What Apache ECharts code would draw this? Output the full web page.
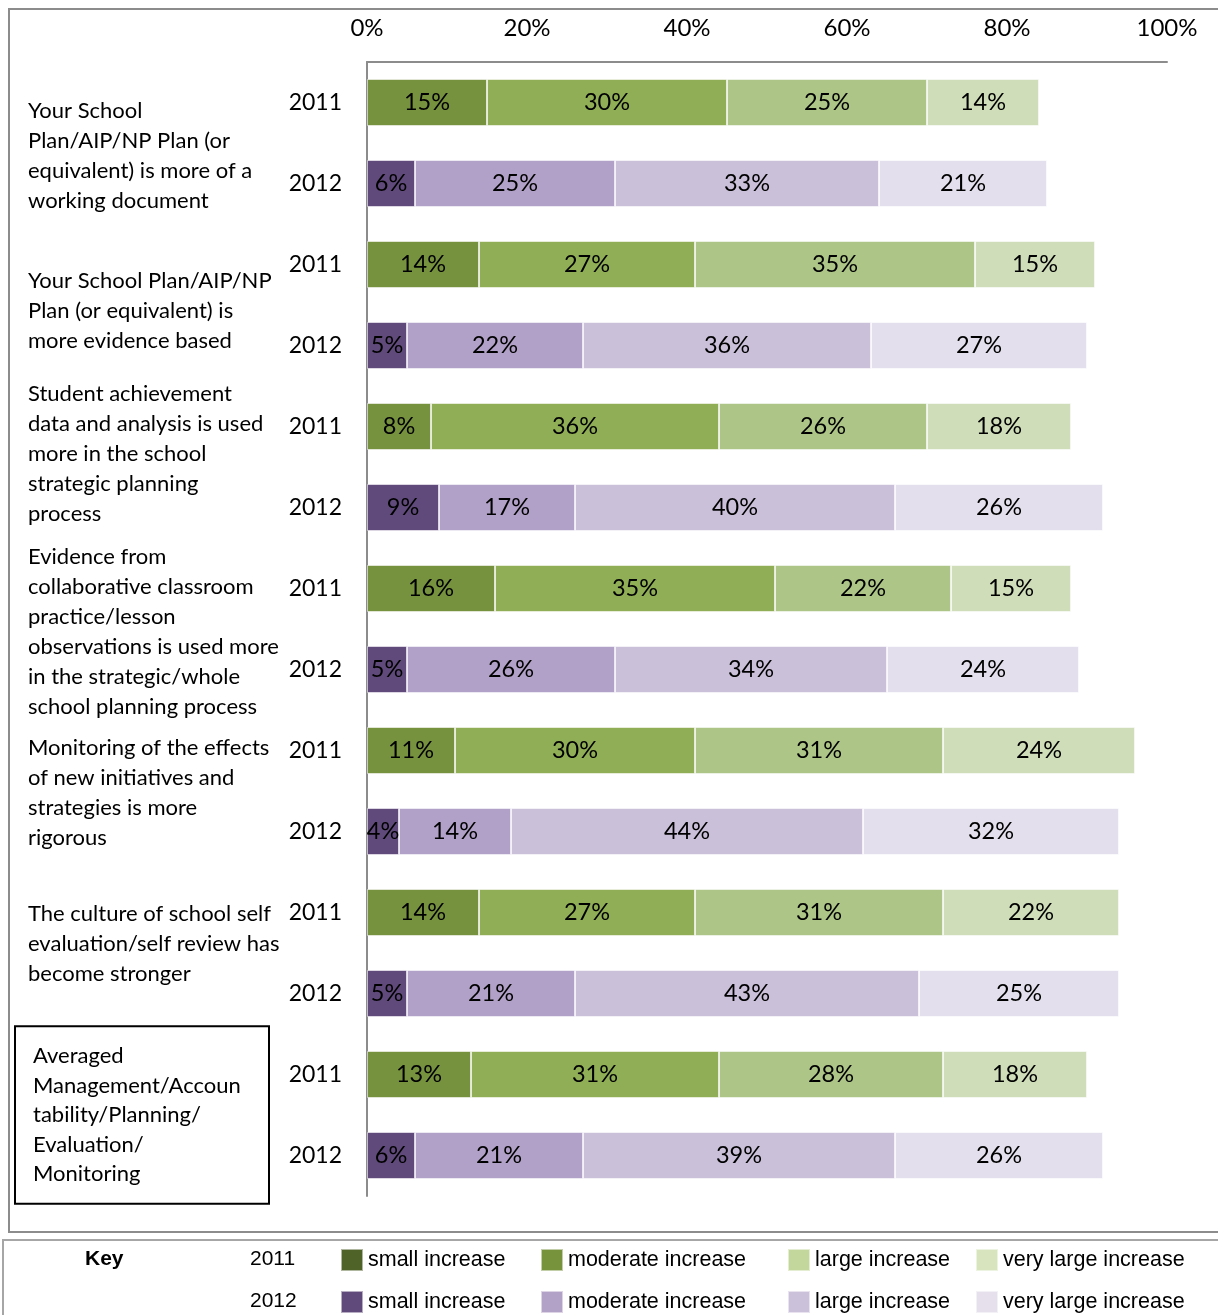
<!DOCTYPE html>
<html>
<head>
<meta charset="utf-8">
<style>
  html, body { margin: 0; padding: 0; background: #fff; }
  #chart { width: 1218px; height: 1315px; }
</style>
<script src="https://cdn.jsdelivr.net/npm/echarts@6/dist/echarts.min.js"></script>
</head>
<body>
<div id="chart"></div>
<script>
// Survey statements (one group per statement, two years each)
const statements = [
  'Your School\nPlan/AIP/NP Plan (or\nequivalent) is more of a\nworking document',
  'Your School Plan/AIP/NP\nPlan (or equivalent) is\nmore evidence based',
  'Student achievement\ndata and analysis is used\nmore in the school\nstrategic planning\nprocess',
  'Evidence from\ncollaborative classroom\npractice/lesson\nobservations is used more\nin the strategic/whole\nschool planning process',
  'Monitoring of the effects\nof new initiatives and\nstrategies is more\nrigorous',
  'The culture of school self\nevaluation/self review has\nbecome stronger',
  'Averaged\nManagement/Accoun\ntability/Planning/\nEvaluation/\nMonitoring'
];
const years = ['2011', '2012'];
const levels = ['small increase', 'moderate increase', 'large increase', 'very large increase'];

// Percentages per statement: [small, moderate, large, very large]
const values2011 = [
  [15, 30, 25, 14],
  [14, 27, 35, 15],
  [8, 36, 26, 18],
  [16, 35, 22, 15],
  [11, 30, 31, 24],
  [14, 27, 31, 22],
  [13, 31, 28, 18]
];
const values2012 = [
  [6, 25, 33, 21],
  [5, 22, 36, 27],
  [9, 17, 40, 26],
  [5, 26, 34, 24],
  [4, 14, 44, 32],
  [5, 21, 43, 25],
  [6, 21, 39, 26]
];
const xTicks = [0, 20, 40, 60, 80, 100];

// Colours
const barColors2011 = ['#77923F', '#90AE55', '#ADC586', '#CFDDB8'];
const barColors2012 = ['#604A7B', '#B1A0C7', '#CBC0DA', '#E4DFEC'];
const keyColors2011 = ['#4F6228', '#77933C', '#C3D69B', '#D7E4BD'];
const keyColors2012 = ['#604A7B', '#B3A2C7', '#CCC1DA', '#E6E0EC'];

// One row per (statement, year)
const rowYears = [];
statements.forEach(() => years.forEach(y => rowYears.push(y)));

const FONT = 'Lato';
const KEYFONT = 'Liberation Sans';

function yearSeries(vals, yearIdx, colors) {
  return levels.map((lvl, k) => ({
    name: lvl + ' (' + years[yearIdx] + ')',
    type: 'bar',
    stack: 'share',
    barWidth: 47,
    yAxisIndex: 0,
    itemStyle: { color: colors[k], borderColor: 'rgba(255,255,255,0.55)', borderWidth: 1 },
    label: {
      show: true,
      position: 'inside',
      formatter: p => p.value + '%',
      color: '#000',
      fontFamily: FONT,
      fontSize: 23.5
    },
    emphasis: { disabled: true },
    data: rowYears.map((y, r) => (r % 2 === yearIdx ? vals[Math.floor(r / 2)][k] : '-'))
  }));
}

const series = [
  ...yearSeries(values2011, 0, barColors2011),
  ...yearSeries(values2012, 1, barColors2012)
];

// Key: one legend box per swatch so the spacing follows the text widths
const keyLefts = [335, 535, 782, 970];
const keyTops = [1243, 1285];
const legends = [];
[keyColors2011, keyColors2012].forEach((cols, yi) => {
  levels.forEach((lvl, k) => {
    legends.push({
      left: keyLefts[k],
      top: keyTops[yi],
      itemWidth: 22,
      itemHeight: 22,
      icon: 'rect',
      selectedMode: false,
      itemGap: 0,
      data: [{ name: lvl + ' (' + years[yi] + ')', itemStyle: { color: cols[k] } }],
      formatter: n => n.replace(/ \(\d+\)$/, ''),
      textStyle: { fontFamily: KEYFONT, fontSize: 21.5, color: '#000' }
    });
  });
});

// Vertical nudge of each statement label (spacer height above > 0, below < 0)
const labelNudge = [26, 12, -26, 6, 4, -18, 0];
const lastIdx = statements.length - 1;

function statementLabel(value, idx) {
  const lines = value.split('\n').map(l => '{t|' + l + '}');
  const h = labelNudge[idx] || 0;
  if (h > 0) lines.unshift('{sp|' + ' ' + '}');
  if (h < 0) lines.push('{sp|' + ' ' + '}');
  return { text: lines.join('\n'), h: Math.abs(h) };
}

const option = {
  animation: false,
  backgroundColor: '#fff',
  grid: { left: 367, right: 51, top: 62, bottom: 119, containLabel: false },
  xAxis: {
    type: 'value',
    position: 'top',
    min: 0,
    max: 100,
    interval: 20,
    axisLine: { show: true, lineStyle: { color: '#8C8C8C', width: 2 } },
    axisTick: { show: false },
    splitLine: { show: false },
    axisLabel: {
      formatter: v => v + '%',
      color: '#000',
      fontFamily: FONT,
      fontSize: 24,
      margin: 22
    }
  },
  yAxis: [
    {
      type: 'category',
      inverse: true,
      data: rowYears,
      axisLine: { show: true, lineStyle: { color: '#8C8C8C', width: 2 } },
      axisTick: { show: false },
      axisLabel: { color: '#000', fontFamily: FONT, fontSize: 23, margin: 25 }
    },
    {
      type: 'category',
      inverse: true,
      position: 'left',
      data: statements,
      axisLine: { show: false },
      axisTick: { show: false },
      axisLabel: {
        interval: (i) => i !== lastIdx,
        align: 'left',
        margin: 339,
        formatter: (value, idx) => statementLabel(value, idx).text,
        rich: {
          t: { color: '#000', fontFamily: FONT, fontSize: 22, lineHeight: 30 },
          sp: { fontSize: 2, lineHeight: 26 }
        }
      }
    },
    {
      type: 'category',
      inverse: true,
      position: 'left',
      data: statements,
      axisLine: { show: false },
      axisTick: { show: false },
      axisLabel: {
        interval: (i) => i === lastIdx,
        align: 'left',
        margin: 352,
        color: '#000',
        fontFamily: FONT,
        fontSize: 22,
        lineHeight: 29.5,
        width: 218,
        overflow: 'none',
        borderColor: '#000',
        borderWidth: 2,
        padding: [10, 18, 20, 18]
      }
    }
  ],
  legend: legends,
  graphic: [
    {
      type: 'rect',
      shape: { x: 9, y: 9, width: 1220, height: 1223 },
      style: { fill: 'none', stroke: '#8C8C8C', lineWidth: 2 },
      silent: true
    },
    {
      type: 'rect',
      shape: { x: 3, y: 1240, width: 1230, height: 90 },
      style: { fill: 'none', stroke: '#A6A6A6', lineWidth: 2 },
      silent: true
    },
    {
      type: 'text',
      left: 85, top: 1249,
      style: { text: 'Key', font: 'bold 21px "Liberation Sans"', fill: '#000' }
    },
    {
      type: 'text',
      left: 250, top: 1249,
      style: { text: years[0], font: '21px "Liberation Sans"', fill: '#000' }
    },
    {
      type: 'text',
      left: 250, top: 1291,
      style: { text: years[1], font: '21px "Liberation Sans"', fill: '#000' }
    }
  ],
  series
};

// Spacer heights differ per statement, so give each one its own rich style
option.yAxis[1].axisLabel.formatter = (value, idx) => {
  const r = statementLabel(value, idx);
  return r.text.replace('{sp|', '{sp' + idx + '|');
};
labelNudge.forEach((h, i) => {
  option.yAxis[1].axisLabel.rich['sp' + i] = { fontSize: 2, lineHeight: Math.abs(h) || 1 };
});

const chart = echarts.init(document.getElementById('chart'), null, { renderer: 'canvas' });
chart.setOption(option);
</script>
</body>
</html>
